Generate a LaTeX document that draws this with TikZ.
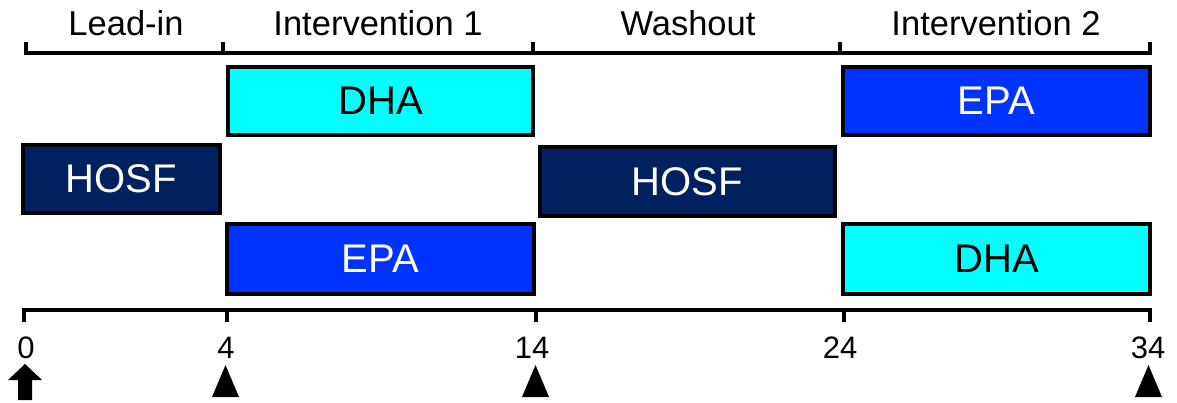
\documentclass[tikz,border=0pt]{standalone}
\usepackage{fontspec}
\setmainfont{Liberation Sans}
\begin{document}
\definecolor{dhacol}{HTML}{00FFFF}
\definecolor{epacol}{HTML}{0033FF}
\definecolor{hosfcol}{HTML}{002060}
\begin{tikzpicture}[x=1pt,y=-1pt,
  arm/.style={draw=black,line width=4pt,rectangle,inner sep=0pt,outer sep=0pt,
    font=\fontsize{40}{46}\selectfont},
  dhabox/.style={arm,fill=dhacol,text=black},
  epabox/.style={arm,fill=epacol,text=white},
  hosfbox/.style={arm,fill=hosfcol,text=white},
  axisline/.style={line width=4pt,line cap=butt},
  phase/.style={font=\fontsize{34.5}{40}\selectfont,anchor=base},
  daylabel/.style={font=\fontsize{31}{36}\selectfont,anchor=base},
  marker/.style={fill=black}]
\useasboundingbox (0,0) rectangle (1177,402);

% treatment arms
\node[dhabox,minimum width=305pt,minimum height=68pt]  (dhaA)  at (380.5,101)   {DHA};
\node[hosfbox,minimum width=197pt,minimum height=68pt] (hosfA) at (121.5,179)   {HOSF};
\node[epabox,minimum width=307pt,minimum height=70pt]  (epaA)  at (380.5,259)   {EPA};
\node[hosfbox,minimum width=295pt,minimum height=69pt] (hosfB) at (687.5,181.5) {HOSF};
\node[epabox,minimum width=307pt,minimum height=68pt]  (epaB)  at (996.5,101)   {EPA};
\node[dhabox,minimum width=307pt,minimum height=70pt]  (dhaB)  at (996.5,259)   {DHA};

% phase bracket along the top
\coordinate (p0) at (26,53);
\coordinate (p1) at (223,53);
\coordinate (p2) at (533,53);
\coordinate (p3) at (840,53);
\coordinate (p4) at (1150,53);
\draw[axisline] (p0) ++(0,-11) -- (p0) -- (p4) -- ++(0,-11);
\foreach \p in {p1,p2,p3} \draw[axisline] (\p) -- ++(0,-11);
\node[phase] (lead)  at (126,35) {Lead-in};
\node[phase] (int1)  at (378,35) {Intervention 1};
\node[phase] (wash)  at (688,35) {Washout};
\node[phase] (int2)  at (996,35) {Intervention 2};

% week axis along the bottom
\coordinate (d0) at (24,310);
\coordinate (d4) at (227,310);
\coordinate (d14) at (536,310);
\coordinate (d24) at (844,310);
\coordinate (d34) at (1150,310);
\draw[axisline] (d0) ++(0,12) -- (d0) -- (d34) -- ++(0,12);
\foreach \p in {d4,d14,d24} \draw[axisline] (\p) -- ++(0,12);
\node[daylabel] (l0)  at (26,358)   {0};
\node[daylabel] (l4)  at (226,358)  {4};
\node[daylabel] (l14) at (532,358)  {14};
\node[daylabel] (l24) at (840,358)  {24};
\node[daylabel] (l34) at (1148,358) {34};

% start arrow and visit markers
\fill[marker] (25,364) -- (42,380) -- (32,380) -- (32,400) -- (18,400) -- (18,380) -- (8,380) -- cycle;
\foreach \x in {225.5,535.5,1148.5}
  \fill[marker] (\x,365) -- (\x+13.5,397) -- (\x-13.5,397) -- cycle;
\end{tikzpicture}
\end{document}
